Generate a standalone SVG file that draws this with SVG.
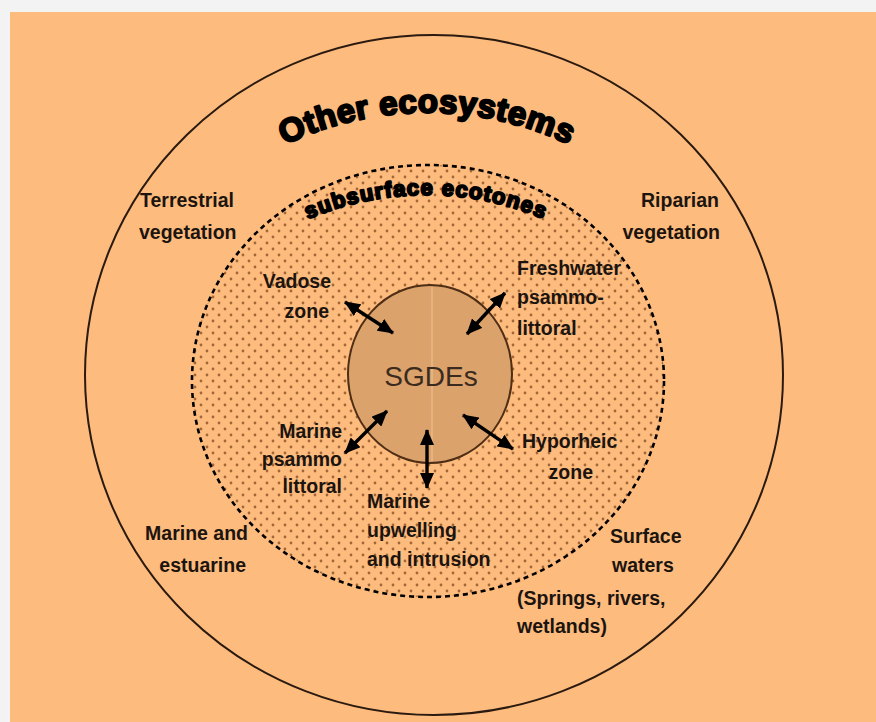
<svg xmlns="http://www.w3.org/2000/svg" width="876" height="722" viewBox="0 0 876 722">
  <style>
    .lbl { font-family: "Liberation Sans", Arial, sans-serif; font-weight: bold; font-size: 19.5px; fill: #1c140e; }
    .end { text-anchor: end; }
    .title { font-family: "Liberation Sans", Arial, sans-serif; font-weight: bold; fill: #000; stroke: #000; stroke-linejoin: round; }
    .arrow { stroke: #000; stroke-width: 3.4; fill: none; marker-start: url(#head); marker-end: url(#head); }
  </style>
  <defs>
    <pattern id="dots" width="12" height="12" patternUnits="userSpaceOnUse">
      <circle cx="3" cy="3" r="1.4" fill="#8c5226" opacity="0.8"/>
      <circle cx="9" cy="9" r="1.4" fill="#8c5226" opacity="0.8"/>
    </pattern>
    <marker id="head" viewBox="0 0 16 14" refX="15" refY="7" markerWidth="16" markerHeight="14" markerUnits="userSpaceOnUse" orient="auto-start-reverse">
      <path d="M0,0 L16,7 L0,14 Z" fill="#000"/>
    </marker>
    <path id="arcOuter" d="M 247,166 A 330,330 0 0,1 607,166"/>
    <path id="arcInner" d="M 246,255 A 300,300 0 0,1 606,255"/>
  </defs>

  <rect x="0" y="0" width="876" height="722" fill="#f3f3f3"/>
  <rect x="10" y="12" width="866" height="710" fill="#fdbb7e"/>

  <g id="other-ecosystems">
    <ellipse cx="434" cy="375" rx="349" ry="340" fill="none" stroke="#2a1a10" stroke-width="2"/>
    <text class="title" font-size="33" letter-spacing="0.5" stroke-width="2.2"><textPath href="#arcOuter" startOffset="50%" text-anchor="middle">Other ecosystems</textPath></text>
  </g>

  <g id="subsurface-ecotones">
    <ellipse cx="428" cy="381" rx="236" ry="216" fill="url(#dots)"/>
    <ellipse cx="428" cy="381" rx="236" ry="216" fill="none" stroke="#000" stroke-width="2.6" stroke-dasharray="5 4"/>
    <text class="title" font-size="22" letter-spacing="1.2" stroke-width="2"><textPath href="#arcInner" startOffset="50%" text-anchor="middle">subsurface ecotones</textPath></text>
  </g>

  <g id="sgdes">
    <ellipse cx="430" cy="374" rx="82" ry="89" fill="#dba26c" stroke="#4e2e15" stroke-width="2"/>
    <line x1="432" y1="287" x2="432" y2="461" stroke="#eab987" stroke-width="1.5"/>
    <text x="431" y="386" text-anchor="middle" font-family="Liberation Sans, Arial, sans-serif" font-size="28" fill="#3b2b1e">SGDEs</text>
  </g>

  <g id="terrestrial-vegetation">
    <text class="lbl" x="140" y="207">Terrestrial</text>
    <text class="lbl" x="139" y="239">vegetation</text>
  </g>
  <g id="riparian-vegetation">
    <text class="lbl end" x="719" y="207">Riparian</text>
    <text class="lbl end" x="720" y="239">vegetation</text>
  </g>
  <g id="vadose-zone">
    <text class="lbl end" x="331" y="288">Vadose</text>
    <text class="lbl end" x="329" y="318">zone</text>
  </g>
  <g id="freshwater-psammolittoral">
    <text class="lbl" x="517" y="275">Freshwater</text>
    <text class="lbl" x="517" y="304">psammo-</text>
    <text class="lbl" x="517" y="335">littoral</text>
  </g>
  <g id="marine-psammolittoral">
    <text class="lbl end" x="342" y="438">Marine</text>
    <text class="lbl end" x="342" y="466">psammo</text>
    <text class="lbl end" x="342" y="493">littoral</text>
  </g>
  <g id="hyporheic-zone">
    <text class="lbl" x="522" y="448">Hyporheic</text>
    <text class="lbl end" x="593" y="479">zone</text>
  </g>
  <g id="marine-upwelling">
    <text class="lbl" x="367" y="508">Marine</text>
    <text class="lbl" x="367" y="537">upwelling</text>
    <text class="lbl" x="367" y="566">and intrusion</text>
  </g>
  <g id="marine-estuarine">
    <text class="lbl end" x="248" y="540">Marine and</text>
    <text class="lbl end" x="246" y="572">estuarine</text>
  </g>
  <g id="surface-waters">
    <text class="lbl" x="610" y="543">Surface</text>
    <text class="lbl" x="612" y="572">waters</text>
    <text class="lbl" x="517" y="605">(Springs, rivers,</text>
    <text class="lbl" x="517" y="633">wetlands)</text>
  </g>

  <g id="connectors">
    <line class="arrow" x1="345" y1="302" x2="393" y2="333"/>
    <line class="arrow" x1="505" y1="293" x2="467" y2="334"/>
    <line class="arrow" x1="387" y1="411" x2="345" y2="453"/>
    <line class="arrow" x1="427" y1="430" x2="427" y2="488"/>
    <line class="arrow" x1="463" y1="415" x2="513" y2="449"/>
  </g>
</svg>
